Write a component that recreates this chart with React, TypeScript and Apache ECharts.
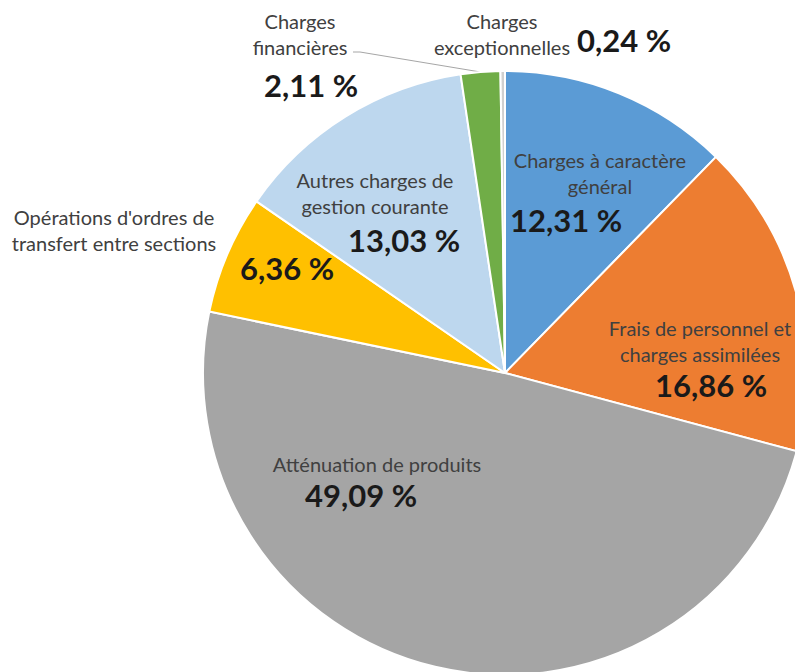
import React, { useEffect, useRef } from "react";
import * as echarts from "echarts";

const categories = [
  "Charges à caractère\ngénéral",
  "Frais de personnel et\ncharges assimilées",
  "Atténuation de produits",
  "Opérations d'ordres de\ntransfert entre sections",
  "Autres charges de\ngestion courante",
  "Charges\nfinancières",
  "Charges\nexceptionnelles",
];
const values = [12.31, 16.86, 49.09, 6.36, 13.03, 2.11, 0.24];

const sliceColors = ["#5B9BD5", "#ED7D31", "#A5A5A5", "#FFC000", "#BDD7EE", "#70AD47", "#D0D0D0"];
// label anchor positions (centres of label blocks), layout only
const namePos = [
  [600, 173],
  [700, 341],
  [377, 464],
  [114, 230],
  [375, 193],
  [300, 34],
  [502, 34],
];
const pctPos = [
  [566, 220],
  [711, 385],
  [361, 495],
  [287, 268],
  [404, 240],
  [311, 85],
  [624, 40],
];

const FONT = "Lato, 'Open Sans', sans-serif";

export default function App() {
  const ref = useRef<HTMLDivElement>(null);
  useEffect(() => {
    const chart = echarts.init(ref.current!, null, { renderer: "svg" });
    const center = [505, 373];
    const radius = 302;
    const nameData = categories.map((name, i) => {
      const d: any = { name, value: values[i], itemStyle: { color: sliceColors[i] } };
      if (i === 5) d.labelLine = { show: true, lineStyle: { color: "#A6A6A6", width: 1 } };
      return d;
    });
    const pctData = categories.map((name, i) => ({ name, value: values[i] }));
    chart.setOption({
      animation: false,
      backgroundColor: "#ffffff",
      series: [
        {
          type: "pie",
          center,
          radius,
          startAngle: 90,
          clockwise: true,
          avoidLabelOverlap: false,
          itemStyle: { borderColor: "#ffffff", borderWidth: 2 },
          emphasis: { disabled: true },
          label: {
            show: true,
            position: "outside",
            formatter: "{b}",
            fontFamily: FONT,
            fontSize: 20,
            lineHeight: 26,
            color: "#404040",
            align: "center",
          },
          labelLine: { show: false },
          data: nameData,
          labelLayout: (p: any) => {
            const [x, y] = namePos[p.dataIndex];
            const res: any = { x, y, align: "center", verticalAlign: "middle" };
            if (p.dataIndex === 5) {
              const a = p.labelLinePoints && p.labelLinePoints[0] ? p.labelLinePoints[0] : [480, 73];
              res.labelLinePoints = [a, [360, 52], [353, 52]];
            }
            return res;
          },
        },
        {
          type: "pie",
          center,
          radius,
          startAngle: 90,
          clockwise: true,
          silent: true,
          avoidLabelOverlap: false,
          itemStyle: { color: "rgba(0,0,0,0)", borderWidth: 0 },
          emphasis: { disabled: true },
          label: {
            show: true,
            position: "inside",
            formatter: (p: any) => p.value.toFixed(2).replace(".", ",") + " %",
            fontFamily: FONT,
            fontSize: 31,
            lineHeight: 24,
            fontWeight: "bold",
            color: "#1A1A1A",
          },
          labelLine: { show: false },
          data: pctData,
          labelLayout: (p: any) => {
            const [x, y] = pctPos[p.dataIndex];
            return { x, y, align: "center", verticalAlign: "middle" };
          },
        },
      ],
    });
    return () => chart.dispose();
  }, []);
  return (
    <div
      ref={ref}
      style={{ position: "fixed", left: 0, top: 0, width: 795, height: 672 }}
    />
  );
}
